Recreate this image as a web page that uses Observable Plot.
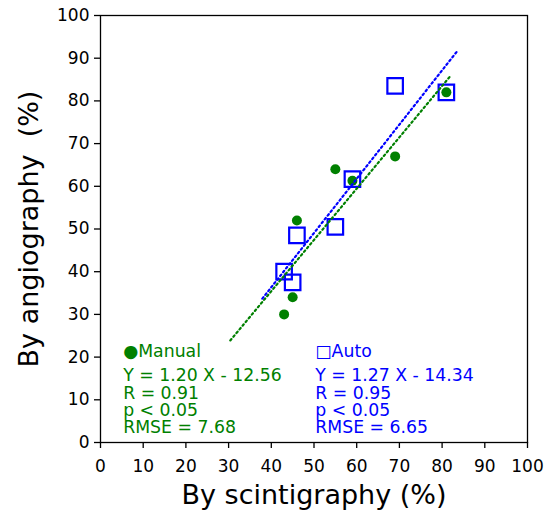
<!DOCTYPE html>
<html><head><meta charset="utf-8">
<script src="https://cdn.jsdelivr.net/npm/d3@7"></script>
<script src="https://cdn.jsdelivr.net/npm/@observablehq/plot@0.6"></script>
<style>
body{margin:0;background:#fff}
svg text{white-space:pre}
</style>
</head><body><div id="chart"></div>
<script>
// Data
const manualX = [43, 45, 46, 55, 59, 69, 81];
const manualY = [30, 34, 52, 64, 61.3, 67, 82];
const autoX = [43, 45, 46, 55, 59, 69, 81];
const autoY = [40, 37.5, 48.5, 50.5, 61.7, 83.5, 82];
const manualFitX = [30.4, 82.0];
const manualFitY = [23.9, 85.9];
const autoFitX = [37.9, 83.5];
const autoFitY = [33.7, 91.6];
const xTicks = [0, 10, 20, 30, 40, 50, 60, 70, 80, 90, 100];
const yTicks = [0, 10, 20, 30, 40, 50, 60, 70, 80, 90, 100];
const manualTitle = "●Manual";
const autoTitle = "□Auto";
const manualStats = ["Y = 1.20 X - 12.56", "R = 0.91", "p < 0.05", "RMSE = 7.68"];
const autoStats = ["Y = 1.27 X - 14.34", "R = 0.95", "p < 0.05", "RMSE = 6.65"];
const xLabel = "By scintigraphy (%)";
const yLabel = "By angiography  (%)";

const GREEN = "#008000", BLUE = "#0000ff";
const mIdx = d3.range(manualX.length);
const aIdx = d3.range(autoX.length);
const mfIdx = d3.range(manualFitX.length);
const afIdx = d3.range(autoFitX.length);

const plot = Plot.plot({
  width: 545, height: 512,
  marginLeft: 100, marginRight: 18, marginTop: 15, marginBottom: 70,
  x: {domain: [0, 100]},
  y: {domain: [0, 100]},
  style: {fontFamily: "'DejaVu Sans'", fontSize: "17px", color: "black", background: "white"},
  marks: [
    Plot.axisX({ticks: xTicks, tickSize: 6, tickPadding: 11, label: null, fontSize: 17, strokeWidth: 1.3, tickFormat: d => String(d)}),
    Plot.axisY({ticks: yTicks, tickSize: 6, tickPadding: 5, label: null, fontSize: 17, strokeWidth: 1.3, tickFormat: d => String(d)}),
    Plot.dot(mIdx, {x: i => manualX[i], y: i => manualY[i], r: 5, fill: GREEN, stroke: null}),
    Plot.dot(aIdx, {x: i => autoX[i], y: i => autoY[i], r: 8.75, symbol: "square", stroke: BLUE, strokeWidth: 2.2, fill: "none"}),
    Plot.line(mfIdx, {x: i => manualFitX[i], y: i => manualFitY[i], stroke: GREEN, strokeWidth: 2.2, strokeDasharray: "1.8,3"}),
    Plot.line(afIdx, {x: i => autoFitX[i], y: i => autoFitY[i], stroke: BLUE, strokeWidth: 2.2, strokeDasharray: "1.8,3"}),
    Plot.text([manualTitle], {x: 5.3, y: 20, text: d => d, textAnchor: "start", lineAnchor: "bottom", fill: GREEN, fontSize: 17.3}),
    Plot.text([autoTitle], {x: 50.3, y: 20, text: d => d, textAnchor: "start", lineAnchor: "bottom", fill: BLUE, fontSize: 17.3}),
    Plot.text([manualStats.join("\n")], {x: 5.3, y: 2.2, text: d => d, textAnchor: "start", lineAnchor: "bottom", lineHeight: 1.0, fill: GREEN, fontSize: 17.3}),
    Plot.text([autoStats.join("\n")], {x: 50.3, y: 2.2, text: d => d, textAnchor: "start", lineAnchor: "bottom", lineHeight: 1.0, fill: BLUE, fontSize: 17.3}),
    Plot.text([xLabel], {frameAnchor: "bottom", dy: 61, text: d => d, textAnchor: "middle", lineAnchor: "bottom", fontSize: 27, fill: "black"}),
    Plot.text([yLabel], {frameAnchor: "left", dx: -63, rotate: -90, text: d => d, textAnchor: "middle", lineAnchor: "bottom", fontSize: 27, fill: "black"}),
    Plot.frame({stroke: "black", strokeWidth: 1.3})
  ]
});
document.getElementById("chart").appendChild(plot);
</script>
</body></html>
